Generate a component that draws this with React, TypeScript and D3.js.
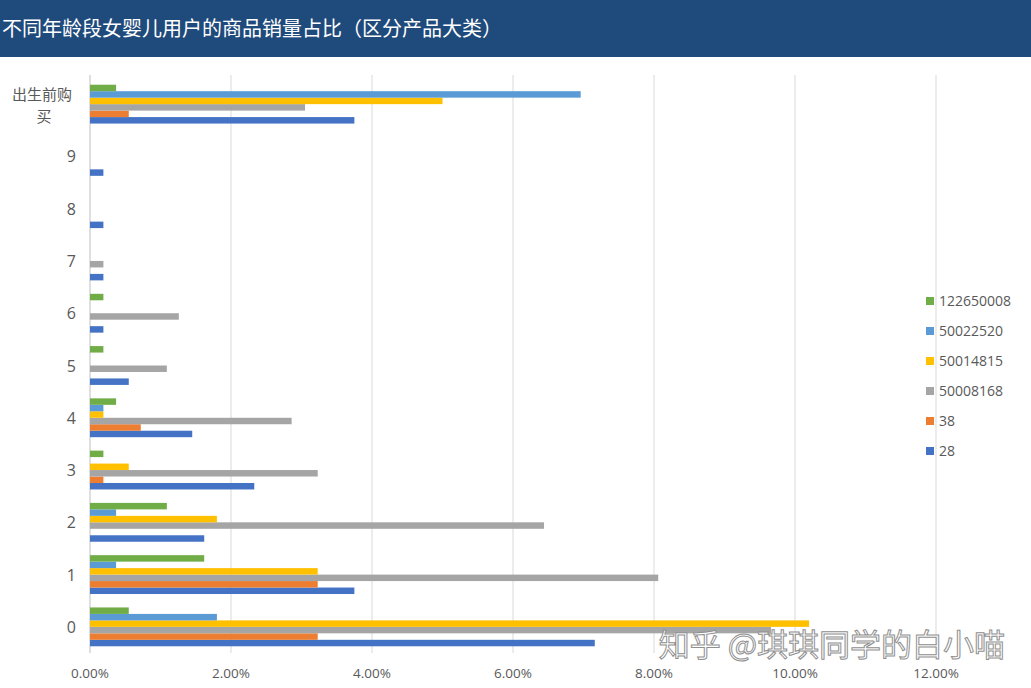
import React, { useEffect, useRef } from 'react';
import * as d3 from 'd3';

// age groups, bottom to top
const categories = ['0', '1', '2', '3', '4', '5', '6', '7', '8', '9', '出生前购买'];

const seriesNames = ['28', '38', '50008168', '50014815', '50022520', '122650008'];
const seriesColors = ['#4472C4', '#ED7D31', '#A5A5A5', '#FFC000', '#5B9BD5', '#70AD47'];

// share of sales (%), one value per category
const s28 = [7.16, 3.75, 1.62, 2.33, 1.45, 0.55, 0.19, 0.19, 0.19, 0.19, 3.75];
const s38 = [3.23, 3.23, 0, 0.19, 0.72, 0, 0, 0, 0, 0, 0.55];
const s50008168 = [9.66, 8.06, 6.44, 3.23, 2.86, 1.09, 1.26, 0.19, 0, 0, 3.05];
const s50014815 = [10.2, 3.23, 1.8, 0.55, 0.19, 0, 0, 0, 0, 0, 5.0];
const s50022520 = [1.8, 0.37, 0.37, 0, 0.19, 0, 0, 0, 0, 0, 6.96];
const s122650008 = [0.55, 1.62, 1.09, 0.19, 0.37, 0.19, 0.19, 0, 0, 0, 0.37];

const seriesValues = [s28, s38, s50008168, s50014815, s50022520, s122650008];

const xTicks = [0, 2, 4, 6, 8, 10, 12];

const title = '不同年龄段女婴儿用户的商品销量占比（区分产品大类）';
const watermark = '知乎 @琪琪同学的白小喵';

const width = 1031;
const height = 688;
const margin = { top: 78, right: 95, bottom: 35, left: 90 };
const cjk = '"Noto Sans CJK SC", "Microsoft YaHei", sans-serif';
const latin = '"Open Sans", sans-serif';

const BarChart = () => {
  const ref = useRef<SVGSVGElement>(null);

  useEffect(() => {
    const svg = d3.select(ref.current).attr('width', width).attr('height', height);
    svg.selectAll('*').remove();

    svg.append('rect').attr('width', width).attr('height', height).attr('fill', '#fff');

    // title bar
    svg.append('rect').attr('x', 0).attr('y', 0).attr('width', width).attr('height', 57).attr('fill', '#1F4A7C');
    svg
      .append('text')
      .attr('x', 2)
      .attr('y', 36)
      .attr('fill', '#fff')
      .style('font-family', cjk)
      .style('font-size', '20px')
      .text(title);

    const x = d3.scaleLinear().domain([0, 12]).range([margin.left, width - margin.right]);

    const y = d3
      .scaleBand()
      .domain(categories)
      .range([height - margin.bottom, margin.top])
      .paddingInner(0.257)
      .paddingOuter(0.1285);

    const sub = d3
      .scaleBand()
      .domain(seriesNames)
      .range([y.bandwidth(), 0]);

    // gridlines
    svg
      .append('g')
      .selectAll('line')
      .data(xTicks)
      .enter()
      .append('line')
      .attr('x1', (d) => x(d))
      .attr('x2', (d) => x(d))
      .attr('y1', margin.top - 3)
      .attr('y2', height - margin.bottom)
      .attr('stroke', (d) => (d === 0 ? '#BFBFBF' : '#D9D9D9'))
      .attr('stroke-width', 1);

    // bars
    seriesValues.forEach((vals, si) => {
      svg
        .append('g')
        .selectAll('rect')
        .data(vals)
        .enter()
        .append('rect')
        .attr('x', x(0))
        .attr('y', (d, i) => (y(categories[i]) as number) + (sub(seriesNames[si]) as number))
        .attr('width', (d) => x(d) - x(0))
        .attr('height', sub.bandwidth())
        .attr('fill', seriesColors[si]);
    });

    // x tick labels
    svg
      .append('g')
      .selectAll('text')
      .data(xTicks)
      .enter()
      .append('text')
      .attr('x', (d) => x(d))
      .attr('y', height - 10)
      .attr('text-anchor', 'middle')
      .attr('fill', '#595959')
      .style('font-family', latin)
      .style('font-size', '13.5px')
      .text((d) => `${d.toFixed(2)}%`);

    // category labels
    const cat = svg.append('g').style('font-family', cjk).style('font-size', '15px').attr('fill', '#595959');
    categories.forEach((c) => {
      const cy = (y(c) as number) + y.bandwidth() / 2;
      if (c.length > 1) {
        cat.append('text').attr('x', 42).attr('y', cy - 4).attr('text-anchor', 'middle').text(c.slice(0, 4));
        cat.append('text').attr('x', 44).attr('y', cy + 18).attr('text-anchor', 'middle').text(c.slice(4));
      } else {
        cat
          .append('text')
          .attr('x', 76)
          .attr('y', cy + 6)
          .attr('text-anchor', 'end')
          .style('font-family', latin)
          .style('font-size', '16px')
          .text(c);
      }
    });

    // legend, top item = last series
    const legend = svg.append('g').attr('transform', `translate(926, 301)`);
    seriesNames
      .slice()
      .reverse()
      .forEach((name, i) => {
        const color = seriesColors[seriesNames.length - 1 - i];
        legend.append('rect').attr('x', 0).attr('y', i * 30 - 4).attr('width', 8).attr('height', 8).attr('fill', color);
        legend
          .append('text')
          .attr('x', 13)
          .attr('y', i * 30 + 5)
          .attr('fill', '#595959')
          .style('font-family', latin)
          .style('font-size', '14px')
          .text(name);
      });

    // watermark
    svg
      .append('text')
      .attr('x', 1005)
      .attr('y', 656)
      .attr('text-anchor', 'end')
      .attr('fill', '#fff')
      .attr('fill-opacity', 0.9)
      .attr('stroke', '#8f8f8f')
      .attr('stroke-width', 1)
      .style('font-family', cjk)
      .style('font-size', '31px')
      .text(watermark);
  }, []);

  return <svg ref={ref} style={{ position: 'absolute', left: 0, top: 0 }}></svg>;
};

export default function App() {
  return <BarChart />;
}
